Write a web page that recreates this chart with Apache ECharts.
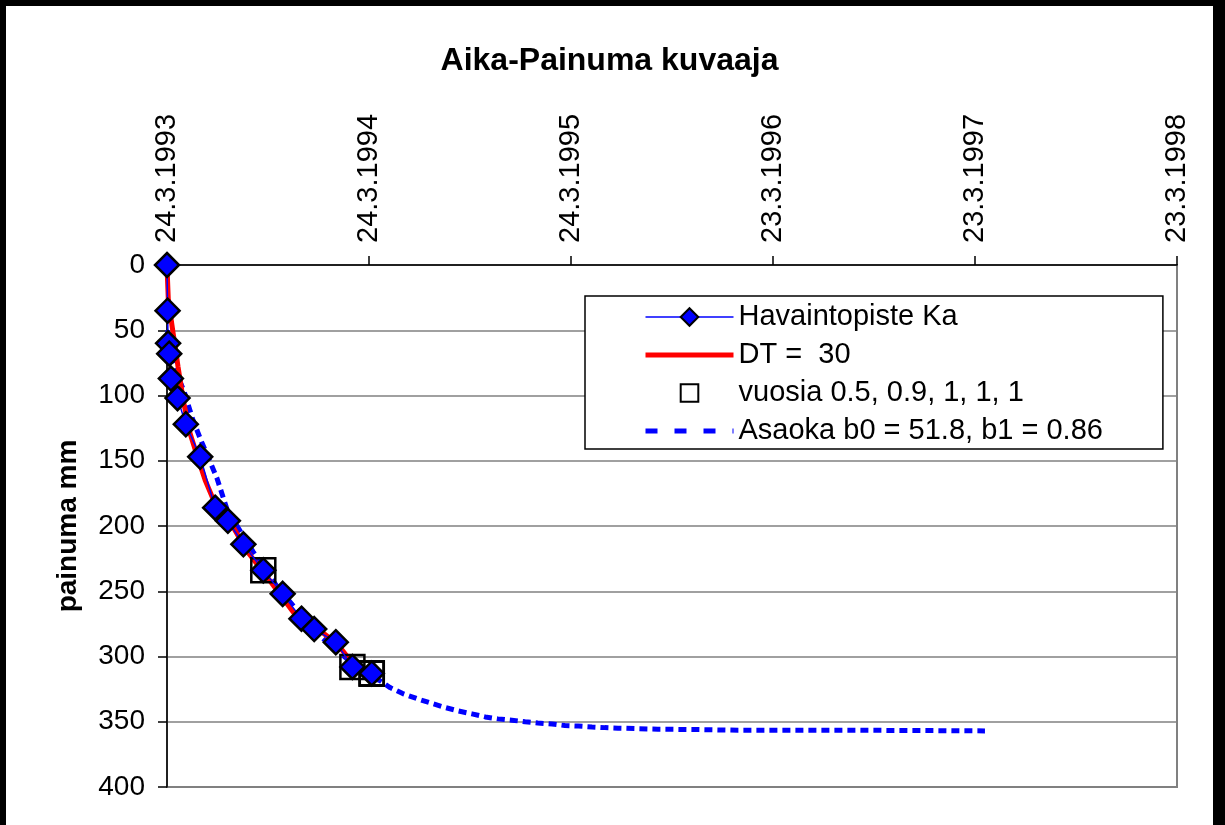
<!DOCTYPE html>
<html>
<head>
<meta charset="utf-8">
<title>Aika-Painuma kuvaaja</title>
<script src="https://cdn.jsdelivr.net/npm/echarts@6/dist/echarts.min.js"></script>
<style>
  html, body { margin: 0; padding: 0; background: #000; }
  #chart { position: absolute; left: 6px; top: 6px; width: 1207px; height: 819px; background: #fff; }
</style>
</head>
<body>
<div id="chart"></div>
<script>
// x values are days counted from 24.3.1993, one tick per 365 days
var tickLabels = ["24.3.1993", "24.3.1994", "24.3.1995", "23.3.1996", "23.3.1997", "23.3.1998"];

// Havaintopiste Ka (measured settlement, mm)
var obsDays = [0, 1, 2, 4, 7, 19, 34, 60, 87, 110, 138, 174, 209, 243, 266, 305, 335, 370];
var obsValues = [0, 35, 60, 68, 87, 102, 122, 147, 186, 196, 214, 234, 252, 271, 279, 289, 308, 313];

// DT = 30 curve
var dtDays = [0, 1, 2.4, 11, 20, 29.5, 41.6, 55, 69, 84, 111, 144, 186, 228, 276, 307, 337, 370];
var dtValues = [0, 12, 27, 52, 78, 104, 129, 147, 165, 180, 194.5, 219, 242, 266, 280, 290, 306, 314];

// vuosia 0.5, 0.9, 1, 1, 1 (square marks)
var markDays = [174, 335, 370, 370, 370];
var markValues = [234, 308, 313, 313, 313];

// Asaoka prediction
var asaokaDays = [1, 9, 31, 47, 63, 90, 109, 156, 200, 250, 276, 303, 340, 370, 385, 403, 426, 453, 479, 502,
  526, 551, 575, 598, 623, 647, 670, 696, 719, 743, 768, 791, 815, 887, 960, 1032, 1249, 1478];
var asaokaValues = [50, 74, 97, 119, 136, 163, 188, 220, 247, 272, 284, 294, 307, 316, 318.6, 323.8, 328.4, 332.5, 336, 339,
  341.7, 344, 346.3, 347.8, 348.8, 350, 351, 351.7, 352.9, 353.3, 354, 354.5, 354.9, 355.7, 356, 356.5, 356.5, 357];

function pairs(xs, ys) {
  return xs.map(function (x, i) { return [x, ys[i]]; });
}

var font = "'Liberation Sans', Arial, sans-serif";
var myChart = echarts.init(document.getElementById("chart"));

myChart.setOption({
  animation: false,
  textStyle: { fontFamily: font, color: "#000" },
  title: {
    text: "Aika-Painuma kuvaaja",
    left: "center",
    top: 39,
    padding: 0,
    textStyle: { fontFamily: font, fontSize: 32, fontWeight: "bold", color: "#000" }
  },
  legend: {
    orient: "vertical",
    left: 579,
    top: 290,
    padding: [6, 60, 3, 58],
    itemWidth: 88,
    itemHeight: 22,
    itemGap: 8,
    selectedMode: false,
    backgroundColor: "#fff",
    borderColor: "#000",
    borderWidth: 1.5,
    borderRadius: 0,
    textStyle: { fontFamily: font, fontSize: 29, color: "#000", lineHeight: 30 },
    data: [
      { name: "Havaintopiste Ka", lineStyle: { width: 1.5 }, itemStyle: { borderWidth: 2 } },
      { name: "DT =  30", lineStyle: { width: 5 }, itemStyle: { opacity: 0 } },
      { name: "vuosia 0.5, 0.9, 1, 1, 1", lineStyle: { width: 0, opacity: 0 }, itemStyle: { borderWidth: 2 } },
      { name: "Asaoka b0 = 51.8, b1 = 0.86", lineStyle: { width: 5, type: [12, 17] }, itemStyle: { opacity: 0 } }
    ]
  },
  grid: {
    left: 161,
    top: 259,
    right: 36,
    bottom: 38,
    show: true,
    borderColor: "#808080",
    borderWidth: 2,
    backgroundColor: "#fff"
  },
  xAxis: {
    type: "value",
    position: "top",
    min: 0,
    max: 1825,
    interval: 365,
    axisLine: { show: true, lineStyle: { color: "#000", width: 1.5 } },
    axisTick: { show: true, length: 9, lineStyle: { color: "#000", width: 1.5 } },
    axisLabel: {
      rotate: 90,
      margin: 22,
      fontSize: 29,
      color: "#000",
      fontFamily: font,
      formatter: function (v) { return tickLabels[Math.round(v / 365)]; }
    },
    splitLine: { show: false }
  },
  yAxis: {
    type: "value",
    inverse: true,
    min: 0,
    max: 400,
    interval: 50,
    name: "painuma mm",
    nameLocation: "middle",
    nameGap: 85,
    nameTextStyle: { fontFamily: font, fontSize: 28, fontWeight: "bold", color: "#000" },
    axisLine: { show: true, lineStyle: { color: "#000", width: 1.5 } },
    axisTick: { show: true, length: 9, lineStyle: { color: "#000", width: 1.5 } },
    axisLabel: { fontSize: 28, margin: 22, color: "#000", fontFamily: font },
    splitLine: { show: true, lineStyle: { color: "#808080", width: 1.5 } }
  },
  series: [
    {
      name: "Havaintopiste Ka",
      type: "line",
      z: 5,
      data: pairs(obsDays, obsValues),
      symbol: "diamond",
      symbolSize: 24,
      showAllSymbol: true,
      lineStyle: { color: "#0000ff", width: 1.5 },
      itemStyle: { color: "#0000ff", borderColor: "#000", borderWidth: 2.5 }
    },
    {
      name: "DT =  30",
      type: "line",
      z: 3,
      data: pairs(dtDays, dtValues),
      symbol: "none",
      lineStyle: { color: "#ff0000", width: 5 },
      itemStyle: { color: "#ff0000" }
    },
    {
      name: "vuosia 0.5, 0.9, 1, 1, 1",
      type: "line",
      z: 4,
      data: pairs(markDays, markValues),
      showLine: false,
      symbol: "rect",
      symbolSize: 24,
      showAllSymbol: true,
      lineStyle: { opacity: 0 },
      itemStyle: { color: "rgba(0,0,0,0)", borderColor: "#000", borderWidth: 2.5 }
    },
    {
      name: "Asaoka b0 = 51.8, b1 = 0.86",
      type: "line",
      z: 2,
      data: pairs(asaokaDays, asaokaValues),
      symbol: "none",
      lineStyle: { color: "#0000ff", width: 5, type: [8, 5] },
      itemStyle: { color: "#0000ff" }
    }
  ]
});

window.onresize = function () {
  myChart.resize();
};
</script>
</body>
</html>
